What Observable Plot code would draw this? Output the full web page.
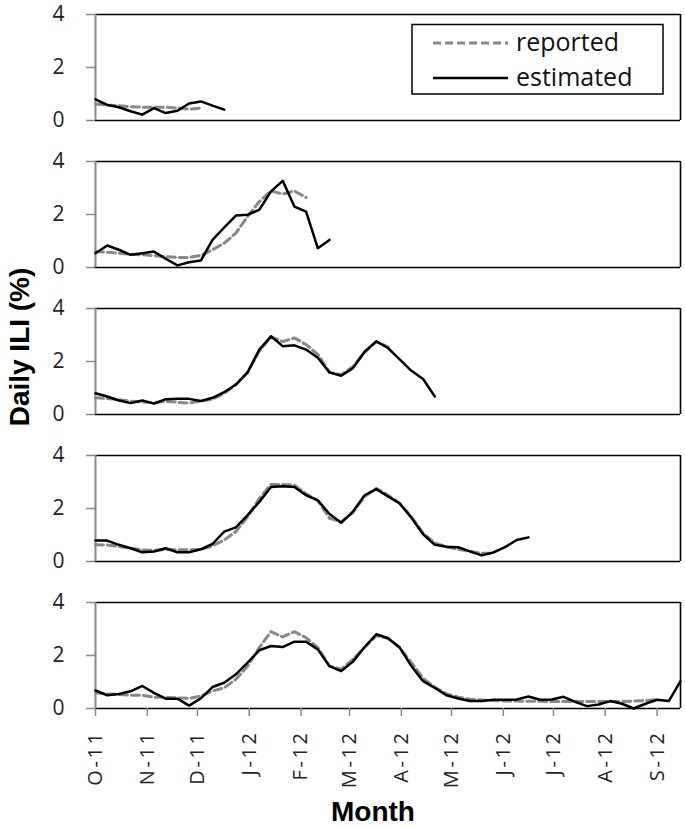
<!DOCTYPE html>
<html>
<head>
<meta charset="utf-8">
<script src="https://cdn.jsdelivr.net/npm/d3@7"></script>
<script src="https://cdn.jsdelivr.net/npm/@observablehq/plot@0.6"></script>
<style>
  html, body { margin: 0; padding: 0; background: #fff; }
  #chart { position: relative; width: 685px; height: 827px; }
  svg { font-family: "Open Sans", "Noto Sans", sans-serif; overflow: visible; }
</style>
</head>
<body>
<div id="chart"></div>
<script>
// ---- data (weekly values, week 0 = first week of Oct 2011) ----
const startDate = "2011-10-01";
const panels = [1, 2, 3, 4, 5];

const est1 = [0.80,0.59,0.50,0.35,0.22,0.47,0.28,0.37,0.64,0.72,0.56,0.41];
const rep1 = [0.62,0.58,0.56,0.52,0.50,0.50,0.50,0.47,0.43,0.47];

const est2 = [0.54,0.83,0.67,0.48,0.54,0.60,0.33,0.08,0.20,0.26,1.04,1.51,1.96,1.99,2.18,2.87,3.27,2.30,2.11,0.73,1.04];
const rep2 = [0.60,0.58,0.54,0.50,0.48,0.45,0.41,0.38,0.38,0.45,0.67,0.92,1.30,1.92,2.49,2.89,2.77,2.89,2.64];

const est3 = [0.80,0.68,0.53,0.43,0.53,0.41,0.58,0.59,0.59,0.51,0.63,0.84,1.13,1.59,2.45,2.95,2.58,2.61,2.45,2.14,1.59,1.46,1.75,2.37,2.76,2.51,2.08,1.65,1.34,0.68];
const rep3 = [0.63,0.60,0.56,0.50,0.47,0.45,0.50,0.46,0.43,0.51,0.58,0.80,1.13,1.59,2.40,2.93,2.75,2.89,2.64,2.27,1.59,1.50,1.80,2.35,2.75,2.55];

const est4 = [0.79,0.79,0.63,0.50,0.35,0.38,0.50,0.35,0.35,0.46,0.66,1.13,1.29,1.75,2.25,2.81,2.84,2.81,2.50,2.31,1.79,1.46,1.88,2.50,2.73,2.46,2.19,1.65,1.03,0.63,0.56,0.54,0.38,0.23,0.34,0.54,0.81,0.91];
const rep4 = [0.63,0.62,0.57,0.50,0.44,0.42,0.45,0.44,0.44,0.45,0.59,0.81,1.13,1.69,2.38,2.91,2.91,2.88,2.55,2.30,1.63,1.50,1.85,2.45,2.76,2.50,2.20,1.69,1.06,0.70,0.55,0.46,0.38,0.31,0.31];

const est5 = [0.68,0.50,0.55,0.65,0.85,0.59,0.37,0.37,0.11,0.38,0.81,0.97,1.29,1.73,2.20,2.36,2.32,2.52,2.52,2.23,1.60,1.41,1.77,2.32,2.80,2.65,2.30,1.60,1.03,0.78,0.50,0.38,0.28,0.28,0.33,0.33,0.34,0.45,0.33,0.34,0.44,0.25,0.09,0.15,0.28,0.18,0.00,0.18,0.33,0.28,1.03];
const rep5 = [0.59,0.55,0.53,0.50,0.50,0.43,0.42,0.40,0.38,0.47,0.66,0.78,1.10,1.60,2.30,2.90,2.70,2.90,2.67,2.30,1.60,1.48,1.85,2.30,2.75,2.65,2.30,1.73,1.14,0.80,0.55,0.43,0.35,0.32,0.30,0.28,0.28,0.27,0.27,0.26,0.26,0.26,0.26,0.26,0.26,0.26,0.28,0.30,0.34];

const estimated = [est1, est2, est3, est4, est5];
const reported  = [rep1, rep2, rep3, rep4, rep5];

const monthTicks  = ["2011-10-01","2011-11-01","2011-12-01","2012-01-01","2012-02-01","2012-03-01","2012-04-01","2012-05-01","2012-06-01","2012-07-01","2012-08-01","2012-09-01"];
const monthLabels = ["O-11","N-11","D-11","J-12","F-12","M-12","A-12","M-12","J-12","J-12","A-12","S-12"];
const yTicks = [0, 2, 4];
const xDomainEnd = "2012-09-15";

// ---- build table ----
const t0 = new Date(startDate);
const weekDate = i => d3.utcDay.offset(t0, 7 * i);
const rows = [];
panels.forEach((p, k) => {
  reported[k].forEach((v, i) => rows.push({panel: p, series: "reported", date: weekDate(i), value: v}));
  estimated[k].forEach((v, i) => rows.push({panel: p, series: "estimated", date: weekDate(i), value: v}));
});
const tickDates = monthTicks.map(d => new Date(d));
const labelOf = new Map(tickDates.map((d, i) => [+d, monthLabels[i]]));
const xStart = t0, xEnd = new Date(xDomainEnd);

const W = 685, H = 827;
const plot = Plot.plot({
  width: W,
  height: H,
  marginLeft: 95,
  marginRight: 5,
  marginTop: 13,
  marginBottom: 118,
  x: {type: "utc", domain: [xStart, xEnd]},
  y: {domain: [0, 4]},
  fy: {domain: panels, axis: null, paddingInner: 0.28, paddingOuter: 0},
  marks: [
    Plot.ruleY([0, 4], {stroke: "#000", strokeWidth: 1.6}),
    Plot.ruleX([xEnd], {stroke: "#000", strokeWidth: 1.6}),
    Plot.axisY({ticks: yTicks, tickFormat: d3.format("d"), tickSize: 9, tickPadding: 22, stroke: "#888", fill: "#222", fontSize: 21, strokeWidth: 1.5, label: null}),
    Plot.ruleX([xStart], {stroke: "#888", strokeWidth: 2}),
    Plot.axisX({ticks: tickDates, tickFormat: d => labelOf.get(+d), tickRotate: -90, tickSize: 8, tickPadding: 14, stroke: "#888", fill: "#222", fontSize: 20, strokeWidth: 1.5, label: null}),
    Plot.line(rows.filter(d => d.series === "reported"), {x: "date", y: "value", fy: "panel", z: "panel", stroke: "#888", strokeWidth: 3, strokeDasharray: "8,4"}),
    Plot.line(rows.filter(d => d.series === "estimated"), {x: "date", y: "value", fy: "panel", z: "panel", stroke: "#000", strokeWidth: 2.5})
  ]
});
document.getElementById("chart").appendChild(plot);

// letter spacing on rotated month labels to match the wide original face
d3.select(plot).selectAll('g[aria-label="x-axis tick label"] text').style("letter-spacing", "2.6px");

// ---- titles and legend ----
const svg = d3.select(plot);
svg.append("text")
  .attr("transform", "translate(29,347) rotate(-90)")
  .attr("text-anchor", "middle")
  .style("font-family", "'Liberation Sans', Arial, sans-serif")
  .style("font-weight", "bold").style("font-size", "28px")
  .text("Daily ILI (%)");
svg.append("text")
  .attr("x", 373).attr("y", 821)
  .attr("text-anchor", "middle")
  .style("font-family", "'Liberation Sans', Arial, sans-serif")
  .style("font-weight", "bold").style("font-size", "28px")
  .text("Month");

const lg = svg.append("g");
lg.append("rect").attr("x", 412).attr("y", 24.5).attr("width", 251).attr("height", 69.5)
  .attr("fill", "#fff").attr("stroke", "#000").attr("stroke-width", 1.5);
lg.append("line").attr("x1", 433).attr("x2", 508).attr("y1", 43).attr("y2", 43)
  .attr("stroke", "#888").attr("stroke-width", 3).attr("stroke-dasharray", "8,4");
lg.append("line").attr("x1", 433).attr("x2", 508).attr("y1", 78).attr("y2", 78)
  .attr("stroke", "#000").attr("stroke-width", 2.5);
lg.append("text").attr("x", 516).attr("y", 51).attr("text-anchor", "start").style("font-size", "25px").attr("fill", "#111").text("reported");
lg.append("text").attr("x", 516).attr("y", 86).attr("text-anchor", "start").style("font-size", "25px").attr("fill", "#111").text("estimated");
</script>
</body>
</html>
